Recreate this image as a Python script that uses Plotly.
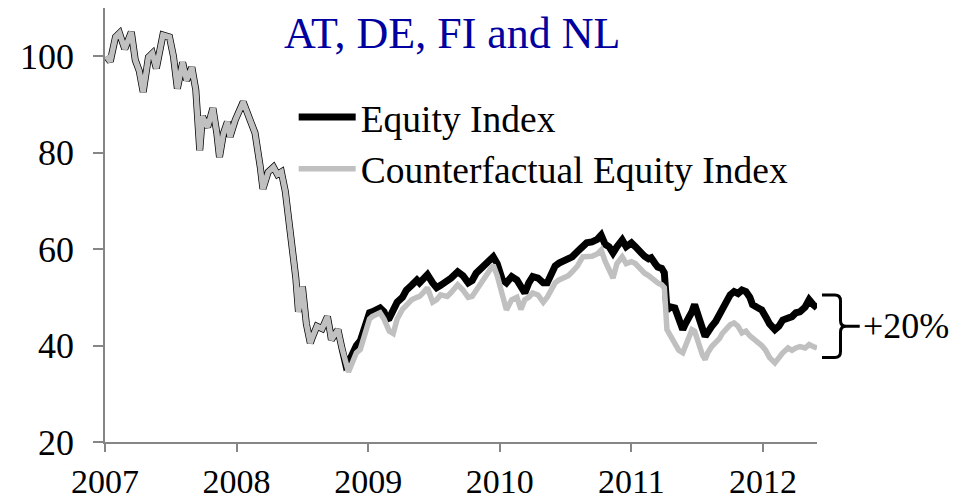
import plotly.graph_objects as go

# decimal years of the readings
years = [
    2007.01, 2007.04, 2007.08, 2007.11, 2007.15, 2007.20, 2007.23, 2007.26, 2007.29, 2007.33,
    2007.36, 2007.39, 2007.44, 2007.49, 2007.52, 2007.55, 2007.59, 2007.62, 2007.66, 2007.69,
    2007.72, 2007.74, 2007.78, 2007.82, 2007.85, 2007.87, 2007.90, 2007.93, 2007.95, 2007.99,
    2008.05, 2008.09, 2008.14, 2008.18, 2008.20, 2008.24, 2008.28, 2008.31, 2008.34, 2008.37,
    2008.40, 2008.43, 2008.45, 2008.47, 2008.50, 2008.53, 2008.56, 2008.58, 2008.61, 2008.65,
    2008.69, 2008.71, 2008.72, 2008.75, 2008.77, 2008.80, 2008.83,
    2008.85, 2008.88, 2008.91, 2008.94, 2008.97, 2008.99, 2009.01, 2009.03, 2009.07, 2009.09,
    2009.12, 2009.14, 2009.16, 2009.19, 2009.22, 2009.26, 2009.29, 2009.33, 2009.37, 2009.39,
    2009.42, 2009.45, 2009.49, 2009.52, 2009.55, 2009.60, 2009.63, 2009.68, 2009.72, 2009.76,
    2009.79, 2009.82, 2009.86, 2009.90, 2009.95, 2009.98, 2010.02, 2010.05, 2010.09, 2010.13,
    2010.16, 2010.19, 2010.22, 2010.25, 2010.29, 2010.33, 2010.36, 2010.39, 2010.42, 2010.45,
    2010.49, 2010.52, 2010.55, 2010.59, 2010.63, 2010.66, 2010.70, 2010.74, 2010.77, 2010.80,
    2010.83, 2010.86, 2010.89, 2010.93, 2010.96, 2011.00, 2011.03, 2011.06, 2011.10, 2011.13,
    2011.15, 2011.18, 2011.20, 2011.23, 2011.25, 2011.27, 2011.30, 2011.33, 2011.36, 2011.39,
    2011.41, 2011.43, 2011.46, 2011.48, 2011.50, 2011.52, 2011.54, 2011.56, 2011.58, 2011.61,
    2011.64, 2011.67, 2011.69, 2011.72, 2011.75, 2011.78, 2011.81, 2011.84, 2011.87, 2011.90,
    2011.92, 2011.95, 2011.99, 2012.02, 2012.05, 2012.09, 2012.12, 2012.15, 2012.19, 2012.22,
    2012.25, 2012.28, 2012.32, 2012.35, 2012.38, 2012.41,
]

equity_index = [
    100.0, 98.9, 104.0, 104.8, 101.5, 105.0, 99.2, 97.0, 92.6, 99.8,
    100.6, 97.5, 104.4, 104.0, 100.0, 93.3, 98.7, 95.0, 97.7, 93.0,
    80.5, 87.5, 85.3, 89.2, 84.0, 79.1, 84.0, 86.4, 83.3, 86.8,
    90.5, 87.8, 84.1, 77.0, 72.5, 76.0, 77.0, 75.5, 76.0, 72.0,
    66.0, 59.0, 54.0, 47.0, 52.2, 44.5, 40.5, 42.0, 44.0, 43.5,
    46.0, 43.0, 41.2, 42.5, 43.3, 39.5, 36.0,
    36.5, 38.5, 40.0, 41.0, 44.0, 45.5, 46.8, 47.0, 47.5, 47.8,
    47.0, 45.5, 45.7, 47.5, 49.0, 50.0, 51.5, 52.5, 53.6, 53.0,
    54.0, 54.7, 53.0, 52.0, 52.5, 53.2, 54.0, 55.3, 54.5, 53.0,
    53.5, 55.0, 56.0, 57.0, 58.4, 57.0, 53.6, 53.0, 54.3, 53.6,
    52.0, 50.9, 53.0, 54.3, 54.0, 53.0, 53.0, 55.0, 56.5, 57.1,
    57.5, 58.0, 58.4, 59.5, 60.8, 61.3, 61.5, 62.0, 62.9, 61.0,
    60.5, 59.2, 60.5, 61.9, 60.5, 61.3, 60.5, 59.5, 58.5, 58.0,
    58.2, 57.0, 56.3, 56.0, 55.1, 47.4, 48.0, 47.8, 45.0, 43.3,
    44.5, 45.3, 47.0, 48.5, 46.5, 45.3, 43.5, 41.9, 43.0, 44.0,
    45.0, 46.5, 48.0, 49.5, 50.5, 51.2, 50.8, 51.5, 51.2, 50.0,
    48.5, 48.0, 47.4, 46.0, 44.5, 43.3, 44.0, 45.3, 45.5, 46.0,
    46.8, 47.0, 48.0, 49.5, 48.5, 47.8,
]

counterfactual_index = [
    100.0, 98.9, 104.0, 104.8, 101.5, 105.0, 99.2, 97.0, 92.6, 99.8,
    100.6, 97.5, 104.4, 104.0, 100.0, 93.3, 98.7, 95.0, 97.7, 93.0,
    80.5, 87.5, 85.3, 89.2, 84.0, 79.1, 84.0, 86.4, 83.3, 86.8,
    90.5, 87.8, 84.1, 77.0, 72.5, 76.0, 77.0, 75.5, 76.0, 72.0,
    66.0, 59.0, 54.0, 47.0, 52.2, 44.5, 40.5, 42.0, 44.0, 43.5,
    46.0, 43.0, 41.2, 42.5, 43.3, 39.5, 36.0,
    34.5, 36.5, 38.5, 39.2, 42.0, 44.5, 45.5, 46.0, 46.5, 46.8,
    45.5, 43.9, 43.0, 42.5, 45.5, 47.5, 48.5, 49.5, 50.0, 50.2,
    51.0, 52.0, 49.0, 49.5, 50.5, 50.2, 51.0, 52.6, 51.5, 50.0,
    50.2, 51.5, 53.0, 54.5, 56.7, 54.5, 50.0, 47.4, 49.5, 50.0,
    47.5, 49.5, 50.0, 50.9, 50.5, 49.0, 50.0, 51.5, 53.0, 53.6,
    54.0, 54.5, 55.3, 56.5, 58.4, 58.4, 58.5, 59.0, 59.8, 57.5,
    56.0, 54.0, 57.0, 58.4, 57.0, 57.4, 57.0, 56.0, 55.0, 54.5,
    54.0, 53.5, 53.0, 52.6, 52.0, 43.3, 41.9, 40.5, 39.0, 38.5,
    40.0, 41.0, 43.3, 43.0, 41.0, 39.5, 38.0, 37.1, 38.5, 39.8,
    40.5, 41.5, 42.5, 43.5, 44.3, 44.7, 44.0, 42.6, 43.0, 42.0,
    41.6, 41.0, 40.0, 39.0, 37.5, 36.4, 37.5, 38.5, 39.5, 39.0,
    39.5, 39.8, 39.5, 40.2, 39.8, 39.5,
]

year_ticks = [2007, 2008, 2009, 2010, 2011, 2012]
value_ticks = [20, 40, 60, 80, 100]

title_text = "AT, DE, FI and NL"
gap_label = "+20%"

SERIF = "Liberation Serif, Times New Roman, serif"
AXIS_GREY = "#868686"

fig = go.Figure()

fig.add_trace(go.Scatter(
    x=years, y=equity_index, mode="lines", name="Equity Index",
    line=dict(color="black", width=7),
))
fig.add_trace(go.Scatter(
    x=years, y=counterfactual_index, mode="lines", name="Counterfactual Equity Index",
    line=dict(color="#c0c0c0", width=5.5),
))

# curly brace between the two end values
y_top = equity_index[-1] + 2.7
y_bot = counterfactual_index[-1] - 2.0
y_mid = (y_top + y_bot) / 2
x0, xv, xt = 1.007, 1.033, 1.060
c, d = 0.008, 1.2
brace = (
    f"M {x0},{y_top} L {xv - c},{y_top} Q {xv},{y_top} {xv},{y_top - d} "
    f"L {xv},{y_mid + d} Q {xv},{y_mid} {xv + c},{y_mid} L {xt},{y_mid} "
    f"M {xv + c},{y_mid} Q {xv},{y_mid} {xv},{y_mid - d} "
    f"L {xv},{y_bot + d} Q {xv},{y_bot} {xv - c},{y_bot} L {x0},{y_bot}"
)
fig.add_shape(type="path", path=brace, xref="paper", yref="y",
              line=dict(color="black", width=3))

fig.add_annotation(x=1.062, y=y_mid, xref="paper", yref="y", text=gap_label,
                   showarrow=False, xanchor="left", yanchor="middle",
                   font=dict(family=SERIF, size=36, color="black"))

fig.add_annotation(x=0.488, y=0.941, xref="paper", yref="paper", text=title_text,
                   showarrow=False, xanchor="center", yanchor="middle",
                   font=dict(family=SERIF, size=44, color="#0000A0"))

# the page body adds 8px on the left and top, so margins are shifted by that
fig.update_layout(
    width=968,
    height=503,
    margin=dict(l=97, r=159, t=0, b=69, autoexpand=False),
    plot_bgcolor="white",
    paper_bgcolor="white",
    font=dict(family=SERIF, size=36, color="black"),
    showlegend=True,
    legend=dict(
        x=0.265, y=0.82, xanchor="left", yanchor="top",
        bgcolor="rgba(0,0,0,0)", itemwidth=57,
        font=dict(family=SERIF, size=37.5, color="black"),
        tracegroupgap=0,
    ),
    xaxis=dict(
        range=[2007, 2012.41], tickvals=year_ticks, ticktext=[str(v) for v in year_ticks],
        showgrid=False, zeroline=False, showline=True, linecolor=AXIS_GREY, linewidth=1.5,
        ticks="outside", ticklen=8, tickcolor=AXIS_GREY, tickwidth=1.5, automargin=False,
        tickfont=dict(family=SERIF, size=34, color="black"),
    ),
    yaxis=dict(
        range=[20, 110], tickvals=value_ticks,
        showgrid=False, zeroline=False, showline=True, linecolor=AXIS_GREY, linewidth=1.5,
        ticks="outside", ticklen=10, tickcolor=AXIS_GREY, tickwidth=1.5, automargin=False,
        ticklabelstandoff=12,
        tickfont=dict(family=SERIF, size=36, color="black"),
    ),
)

fig.write_html("out.html")
